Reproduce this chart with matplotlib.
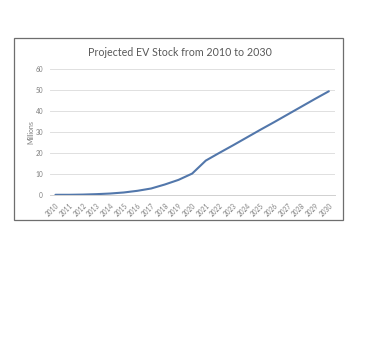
import matplotlib
matplotlib.use("Agg")
import matplotlib.pyplot as plt
from matplotlib.patches import Rectangle

# projected EV stock, millions
years = list(range(2010, 2031))
stock = [0.1, 0.1, 0.2, 0.4, 0.7, 1.2, 2.0, 3.1, 5.0, 7.2, 10.2,
         16.4, 20.1, 23.7, 27.4, 31.1, 34.7, 38.4, 42.1, 45.8, 49.4]
y_ticks = [0, 10, 20, 30, 40, 50, 60]

W, H = 385, 361
fig = plt.figure(figsize=(W / 100, H / 100), dpi=100)
fig.patch.set_facecolor("white")

# chart frame
fig.patches.append(Rectangle((14 / W, 1 - 220 / H), (343 - 14) / W, (220 - 38) / H,
                             transform=fig.transFigure, fill=False,
                             edgecolor="#6e6e6e", linewidth=0.9))

ax = fig.add_axes([50 / W, 1 - 195 / H, 285 / W, 126 / H])
x = list(range(len(years)))
ax.plot(x, stock, color="#5277ab", linewidth=1.5, solid_capstyle="round")

ax.set_xlim(-0.4, len(years) - 1 + 0.45)
ax.set_ylim(0, 60)
ax.set_yticks(y_ticks)
ax.set_yticklabels([str(v) for v in y_ticks], fontsize=4.7, color="#7f7f7f",
                   family="Lato")
ax.set_xticks(x)
ax.set_xticklabels([str(y) for y in years], rotation=45, ha="right",
                   rotation_mode="anchor", fontsize=4.7, color="#7f7f7f",
                   family="Lato")
ax.tick_params(length=0, pad=5)
ax.grid(axis="y", color="#e0e0e0", linewidth=0.7)
ax.set_axisbelow(True)
for s in ["top", "right", "left"]:
    ax.spines[s].set_visible(False)
ax.spines["bottom"].set_color("#d0d0d0")
ax.spines["bottom"].set_linewidth(0.7)

ax.set_ylabel("Millions", fontsize=5, color="#7f7f7f", family="Lato", labelpad=1)
fig.text(180 / W, 1 - 53 / H, "Projected EV Stock from 2010 to 2030",
         ha="center", va="center", fontsize=7.7, color="#595959", family="Lato")

fig.savefig("out.png", dpi=100)
